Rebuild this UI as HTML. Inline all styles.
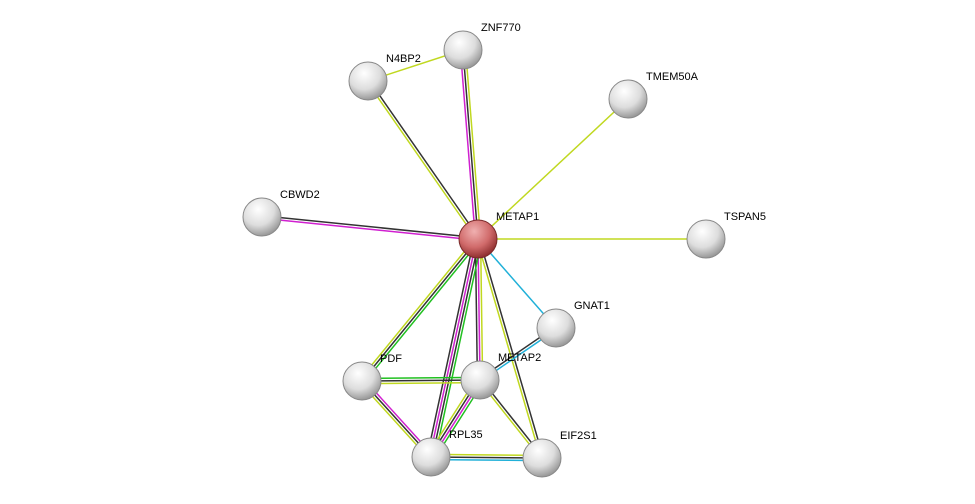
<!DOCTYPE html>
<html><head><meta charset="utf-8"><style>
html,body{margin:0;padding:0;background:#fff;width:975px;height:504px;overflow:hidden}
text{font-family:"Liberation Sans",sans-serif;font-size:11px;fill:#000}
</style></head><body>
<svg id="s" width="975" height="504" xmlns="http://www.w3.org/2000/svg">
<defs>
<radialGradient id="g" cx="40%" cy="30%" r="70%"><stop offset="0" stop-color="#fff"/><stop offset="0.6" stop-color="#ddd"/><stop offset="1" stop-color="#999"/></radialGradient>
<radialGradient id="r" cx="40%" cy="30%" r="70%"><stop offset="0" stop-color="#f0b0b0"/><stop offset="0.6" stop-color="#d06a6a"/><stop offset="1" stop-color="#903030"/></radialGradient>
</defs>
<g id="e"></g><g id="n"></g>
</svg>
<script>
var N={METAP1:[478,239],ZNF770:[463,50],N4BP2:[368,81],TMEM50A:[628,99],CBWD2:[262,217],TSPAN5:[706,239],GNAT1:[556,328],PDF:[362,381],METAP2:[480,380],RPL35:[431,457],EIF2S1:[542,458]};
var C={m:"#d020d0",k:"#333",y:"#c0d820",c:"#20b0d8",g:"#20c020"};
var E=[["METAP1","ZNF770","mky"],["METAP1","N4BP2","yk"],["N4BP2","ZNF770","y"],["METAP1","TMEM50A","y"],["METAP1","CBWD2","mk"],["METAP1","TSPAN5","y"],["METAP1","GNAT1","c"],["METAP1","PDF","gky"],["METAP1","METAP2","ymk"],["METAP1","RPL35","gkmk"],["METAP1","EIF2S1","ky"],["METAP2","GNAT1","kc"],["PDF","METAP2","gky"],["PDF","RPL35","mky"],["METAP2","RPL35","gmky"],["METAP2","EIF2S1","ky"],["RPL35","EIF2S1","ykc"]];
var ns="http://www.w3.org/2000/svg",eg=document.getElementById("e"),ng=document.getElementById("n");
E.forEach(function(e){var a=N[e[0]],b=N[e[1]],dx=b[0]-a[0],dy=b[1]-a[1],L=Math.hypot(dx,dy),px=-dy/L,py=dx/L,k=e[2].length;
for(var i=0;i<k;i++){var o=(i-(k-1)/2)*2.6;var l=document.createElementNS(ns,"line");
l.setAttribute("x1",a[0]+px*o);l.setAttribute("y1",a[1]+py*o);l.setAttribute("x2",b[0]+px*o);l.setAttribute("y2",b[1]+py*o);
l.setAttribute("stroke",C[e[2][i]]);l.setAttribute("stroke-width","1.5");eg.appendChild(l);}});
for(var k in N){var p=N[k];var c=document.createElementNS(ns,"circle");c.setAttribute("cx",p[0]);c.setAttribute("cy",p[1]);c.setAttribute("r",19);
c.setAttribute("fill",k=="METAP1"?"url(#r)":"url(#g)");c.setAttribute("stroke",k=="METAP1"?"#7a2a2a":"#888");c.setAttribute("stroke-width","1");ng.appendChild(c);
var t=document.createElementNS(ns,"text");t.setAttribute("x",p[0]+18);t.setAttribute("y",p[1]-19);t.textContent=k;ng.appendChild(t);}
</script>
</body></html>
